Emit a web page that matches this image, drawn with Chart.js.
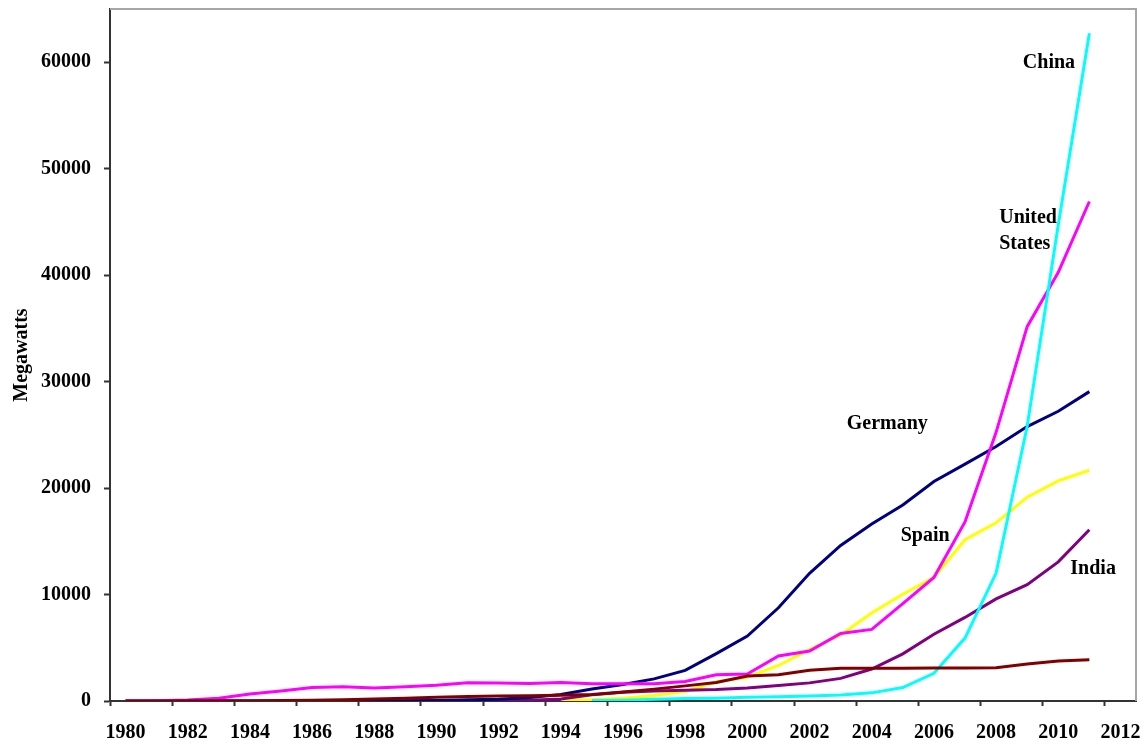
<!DOCTYPE html>
<html>
<head>
<meta charset="utf-8">
<title>Wind power capacity</title>
<script src="https://cdn.jsdelivr.net/npm/chart.js@4/dist/chart.umd.min.js"></script>
<style>
  body { margin: 0; background: #fff; overflow: hidden; }
  #wrap { width: 1146px; height: 745px; }
</style>
</head>
<body>
<div id="wrap"><canvas id="chart" width="1146" height="745"></canvas></div>
<script>
// years on the category axis (2012 is an empty slot at the end)
let years = [];
for (let y = 1980; y <= 2012; y++) years.push(String(y));

// installed capacity, megawatts, 1980 - 2011
let unitedStates = [8, 18, 84, 254, 653, 945, 1265, 1333, 1231, 1332, 1484, 1709, 1680, 1635, 1745, 1612,
  1614, 1611, 1837, 2472, 2539, 4232, 4687, 6350, 6723, 9147, 11603, 16819, 25237, 35159, 40267, 46919];
let germany = [0, 0, 0, 0, 0, 0, 0, 5, 15, 27, 56, 106, 174, 326, 618, 1121,
  1545, 2080, 2875, 4445, 6095, 8754, 11994, 14609, 16629, 18415, 20622, 22247, 23897, 25777, 27214, 29060];
let spain = [null, null, null, null, null, null, null, null, null, null, null, null, null, null, 75, 115,
  249, 512, 880, 1812, 2235, 3337, 4825, 6203, 8263, 10028, 11623, 15145, 16740, 19149, 20676, 21674];
let india = [null, null, null, null, null, null, 0, 0, 0, 10, 20, 39, 39, 79, 185, 576,
  820, 940, 1015, 1077, 1220, 1456, 1702, 2125, 3000, 4430, 6270, 7850, 9587, 10925, 13065, 16084];
let china = [null, null, null, null, null, null, null, null, null, null, null, null, null, null, null, 38,
  79, 170, 224, 268, 346, 400, 468, 567, 764, 1260, 2599, 5912, 12020, 25805, 44733, 62733];
let denmark = [3, 7, 12, 20, 27, 50, 82, 115, 197, 262, 343, 413, 458, 487, 539, 619,
  835, 1116, 1420, 1738, 2341, 2456, 2880, 3076, 3083, 3087, 3101, 3088, 3116, 3465, 3752, 3871];

// y axis
let yMax = 65000;
let yTicks = [0, 10000, 20000, 30000, 40000, 50000, 60000];

// text labels placed in data units (decimal year, megawatts)
let labelTexts = ['China', 'United', 'States', 'Germany', 'Spain', 'India'];
let labelYears = [2009.7, 2008.1, 2008.1, 2004.5, 2005.72, 2011.12];
let labelValues = [59930, 45420, 42970, 26000, 15470, 12370];
let labelAlign = ['center', 'left', 'left', 'center', 'center', 'center'];

let serif = "'Liberation Serif', 'Times New Roman', serif";
let axisColor = '#333333';

let frame = {
  id: 'frame',
  beforeDatasetsDraw(chart) {
    let a = chart.chartArea;
    let ctx = chart.ctx;
    ctx.save();
    ctx.strokeStyle = '#a6a6a6';
    ctx.lineWidth = 2;
    ctx.beginPath();
    ctx.moveTo(a.left, a.top);
    ctx.lineTo(a.right, a.top);
    ctx.lineTo(a.right, a.bottom);
    ctx.stroke();
    ctx.restore();
  }
};

let countryLabels = {
  id: 'countryLabels',
  afterDatasetsDraw(chart) {
    let ctx = chart.ctx;
    let xs = chart.scales.x;
    let ys = chart.scales.y;
    ctx.save();
    ctx.font = 'bold 20px ' + serif;
    ctx.fillStyle = '#000';
    ctx.textBaseline = 'middle';
    for (let i = 0; i < labelTexts.length; i++) {
      ctx.textAlign = labelAlign[i];
      ctx.fillText(labelTexts[i], xs.getPixelForValue(labelYears[i] - 1980), ys.getPixelForValue(labelValues[i]));
    }
    ctx.restore();
  }
};

function line(label, values, color) {
  return {
    label: label,
    data: values,
    borderColor: color,
    backgroundColor: color,
    borderWidth: 3,
    pointRadius: 0,
    tension: 0,
    fill: false
  };
}

new Chart(document.getElementById('chart'), {
  type: 'line',
  data: {
    labels: years,
    datasets: [
      line('Denmark', denmark, '#800000'),
      line('China', china, '#00ffff'),
      line('United States', unitedStates, '#ff00ff'),
      line('Germany', germany, '#000080'),
      line('India', india, '#800080'),
      line('Spain', spain, '#ffff00')
    ]
  },
  options: {
    responsive: false,
    animation: false,
    devicePixelRatio: 1,
    layout: { padding: { top: 9, right: 10, left: 0, bottom: 0 } },
    plugins: {
      legend: { display: false },
      tooltip: { enabled: false }
    },
    scales: {
      x: {
        type: 'category',
        offset: true,
        afterFit: (scale) => {
          scale.height = 44;
          scale.paddingLeft = 0;
          scale.paddingRight = 0;
        },
        grid: {
          offset: true,
          drawOnChartArea: false,
          drawTicks: true,
          tickLength: 5,
          tickWidth: 2,
          tickColor: (c) => c.index % 2 === 0 ? axisColor : 'rgba(0,0,0,0)'
        },
        border: { display: true, color: axisColor, width: 2 },
        ticks: {
          autoSkip: false,
          maxRotation: 0,
          minRotation: 0,
          padding: 15,
          color: '#000',
          font: { family: serif, size: 20, weight: 'bold' },
          callback: (v, i) => i % 2 === 0 ? years[i] : ''
        }
      },
      y: {
        min: 0,
        max: yMax,
        afterBuildTicks: (scale) => {
          scale.ticks = yTicks.map(v => ({ value: v }));
        },
        afterFit: (scale) => {
          scale.width = 110;
          scale.paddingTop = 0;
          scale.paddingBottom = 0;
        },
        grid: {
          drawOnChartArea: false,
          drawTicks: true,
          tickLength: 6,
          tickWidth: 2,
          tickColor: axisColor
        },
        border: { display: true, color: axisColor, width: 2 },
        ticks: {
          autoSkip: false,
          padding: 13,
          color: '#000',
          font: { family: serif, size: 20, weight: 'bold' },
          callback: (v) => String(v)
        },
        title: {
          display: true,
          text: 'Megawatts',
          color: '#000',
          padding: { top: 10, bottom: 4 },
          font: { family: serif, size: 20, weight: 'bold' }
        }
      }
    }
  },
  plugins: [frame, countryLabels]
});
</script>
</body>
</html>
